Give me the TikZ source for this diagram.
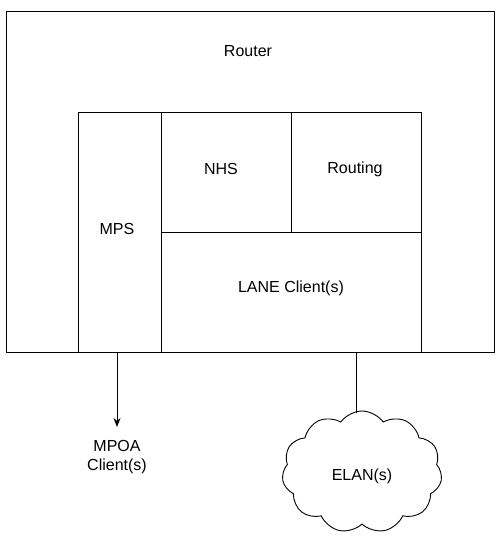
\documentclass[tikz,border=0pt]{standalone}
\usepackage{fontspec}
\setmainfont{Liberation Sans}
\usetikzlibrary{shapes.symbols,arrows.meta}
\begin{document}
\begin{tikzpicture}[x=1pt,y=-1pt,
  box/.style={draw,line width=0.9pt,rectangle,inner sep=0pt},
  lbl/.style={font=\fontsize{16}{19}\selectfont,align=center,inner sep=0pt},
  wire/.style={line width=0.9pt}]
\useasboundingbox (0,0) rectangle (500,544);
\node[box,minimum width=488,minimum height=341] (router) at (250,181.5) {};
\node[lbl] (routerlbl) at (248,51) {Router};
\node[box,minimum width=83,minimum height=240] (mps) at (119.5,232) {};
\node[lbl] at (117,229) {MPS};
\node[box,minimum width=130,minimum height=120] (nhs) at (226,172) {};
\node[lbl] at (221,169) {NHS};
\node[box,minimum width=130,minimum height=120] (routing) at (356,172) {};
\node[lbl] at (355,169) {Routing};
\node[box,minimum width=260,minimum height=120] (lane) at (291,292) {};
\node[lbl] at (291,288) {LANE Client(s)};
\node[lbl] (mpoa) at (117,457) {MPOA\\Client(s)};
\node[cloud,draw,line width=0.9pt,cloud puffs=11,cloud puff arc=110,aspect=1.3,minimum width=160,minimum height=122,inner sep=0pt] (elan) at (362,472) {};
\node[lbl] at (362,476) {ELAN(s)};
\coordinate (mpsout) at (117,352);
\coordinate (arrowtip) at (117,427);
\coordinate (laneout) at (356,352);
\coordinate (cloudtop) at (356,413);
\draw[wire,-{Stealth[length=9pt,width=7pt]}] (mpsout) -- (arrowtip);
\draw[wire] (laneout) -- (cloudtop);
\end{tikzpicture}
\end{document}
